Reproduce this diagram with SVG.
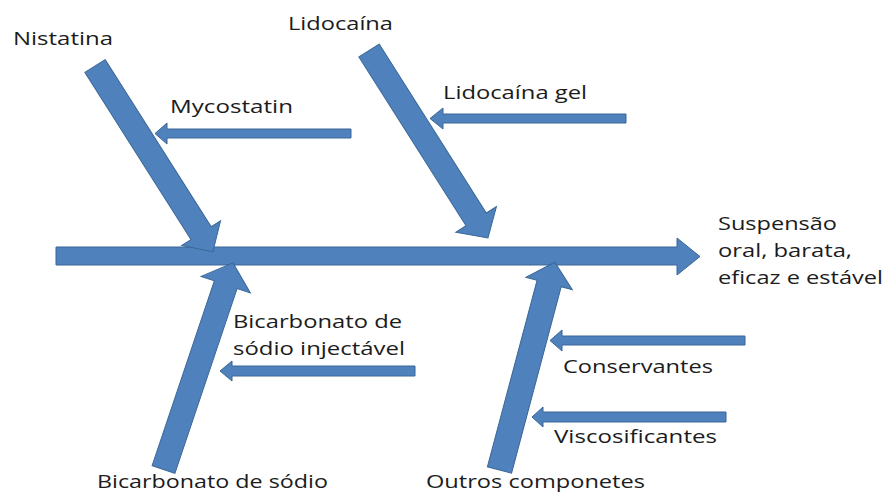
<svg xmlns="http://www.w3.org/2000/svg" width="887" height="494" viewBox="0 0 887 494">
<style>
.a{fill:#4F81BD;stroke:#3B6797;stroke-width:1}
.t{font-family:"Open Sans","Liberation Sans",sans-serif;font-size:18px;fill:#1c1c1c}
</style>
<rect width="887" height="494" fill="#fff"/>
<g id="connectors">
<polygon id="spine" class="a" points="56,247 677,247 677,238 700,256.5 677,275 677,265 56,265"/>
<polygon id="arr-nistatina" class="a" transform="translate(95,66) rotate(57.6)" points="0,-12 198,-12 198,-23 220,0 198,23 198,12 0,12"/>
<polygon id="arr-lidocaina" class="a" transform="translate(369,50.5) rotate(57.6)" points="0,-12 200,-12 200,-24 222,0 200,24 200,12 0,12"/>
<polygon id="arr-bicarbonato" class="a" transform="translate(163.5,469.5) rotate(-71.4)" points="0,-12 195,-12 195,-26 218,0 195,26 195,12 0,12"/>
<polygon id="arr-outros" class="a" transform="translate(499.5,470) rotate(-75.1)" points="0,-12.5 193,-12.5 193,-24 215,0 193,24 193,12.5 0,12.5"/>
<polygon id="arr-mycostatin" class="a" points="351,129 167,129 167,123 155,133.5 167,144 167,138 351,138"/>
<polygon id="arr-lidogel" class="a" points="626,114 443,114 443,108 430,118.5 443,129 443,123 626,123"/>
<polygon id="arr-bicinj" class="a" points="415,366 232,366 232,361 220,371 232,381 232,376 415,376"/>
<polygon id="arr-conserv" class="a" points="745,336 562,336 562,330 550,340.5 562,351 562,345 745,345"/>
<polygon id="arr-visco" class="a" points="726,412 543,412 543,407 532,417 543,427 543,422 726,422"/>
</g>
<g id="nistatina"><text class="t" x="13" y="45" textLength="100" lengthAdjust="spacingAndGlyphs">Nistatina</text></g>
<g id="lidocaina"><text class="t" x="288" y="30" textLength="105" lengthAdjust="spacingAndGlyphs">Lidocaína</text></g>
<g id="mycostatin"><text class="t" x="170" y="113" textLength="123" lengthAdjust="spacingAndGlyphs">Mycostatin</text></g>
<g id="lidocaina-gel"><text class="t" x="443" y="99" textLength="144" lengthAdjust="spacingAndGlyphs">Lidocaína gel</text></g>
<g id="resultado">
<text class="t" x="718" y="230" textLength="119" lengthAdjust="spacingAndGlyphs">Suspensão</text>
<text class="t" x="718" y="257" textLength="134" lengthAdjust="spacingAndGlyphs">oral, barata,</text>
<text class="t" x="718" y="284" textLength="165" lengthAdjust="spacingAndGlyphs">eficaz e estável</text>
</g>
<g id="bicarbonato-injectavel">
<text class="t" x="233" y="328" textLength="169" lengthAdjust="spacingAndGlyphs">Bicarbonato de</text>
<text class="t" x="233" y="355" textLength="172" lengthAdjust="spacingAndGlyphs">sódio injectável</text>
</g>
<g id="bicarbonato"><text class="t" x="97" y="488" textLength="231" lengthAdjust="spacingAndGlyphs">Bicarbonato de sódio</text></g>
<g id="conservantes"><text class="t" x="563" y="373" textLength="150" lengthAdjust="spacingAndGlyphs">Conservantes</text></g>
<g id="viscosificantes"><text class="t" x="554" y="443" textLength="163" lengthAdjust="spacingAndGlyphs">Viscosificantes</text></g>
<g id="outros"><text class="t" x="426" y="488" textLength="219" lengthAdjust="spacingAndGlyphs">Outros componetes</text></g>
</svg>
